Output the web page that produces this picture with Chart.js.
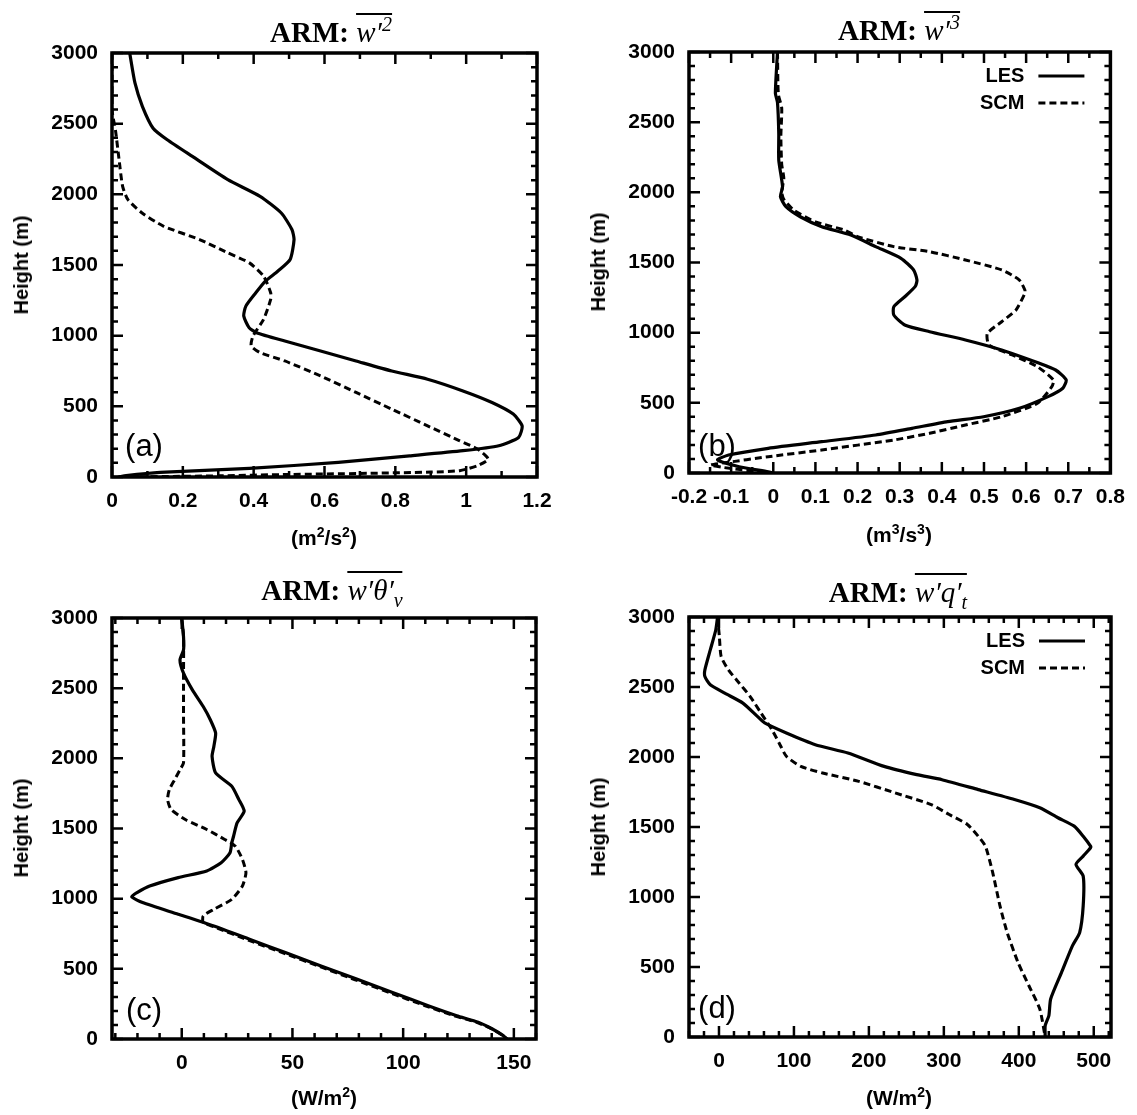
<!DOCTYPE html>
<html>
<head>
<meta charset="utf-8">
<script src="https://cdn.jsdelivr.net/npm/chart.js@4.4.1/dist/chart.umd.min.js"></script>
<style>
  body { margin: 0; background: #fff; }
  #page { position: relative; width: 1137px; height: 1115px; background: #fff; overflow: hidden; }
  canvas { position: absolute; }
  .title { position: absolute; transform: translateX(-50%); white-space: nowrap;
           font-family: 'Liberation Serif', serif; font-size: 29px; line-height: 29px; color: #000; }
  .title b { font-weight: bold; }
  .ov { border-top: 2.5px solid #000; padding-top: 1px; font-style: italic; }
  .ov sup, .ov sub { font-size: 20px; line-height: 0; }
  .xt { position: absolute; transform: translate(-50%, -50%); white-space: nowrap;
        font-family: 'Liberation Sans', Arial, sans-serif; font-weight: bold; font-size: 21px; line-height: 21px; }
  .xt sup { font-size: 14px; line-height: 0; }
  .yt { position: absolute; transform: translate(-50%, -50%) rotate(-90deg); white-space: nowrap;
        font-family: 'Liberation Sans', Arial, sans-serif; font-weight: bold; font-size: 20px; line-height: 20px; }
  .lab { position: absolute; transform: translate(-50%, -50%);
         font-family: 'Liberation Sans', Arial, sans-serif; font-size: 31px; line-height: 31px; }
</style>
</head>
<body>
<div id="page">
  <canvas id="chartA" style="left:0;top:0" width="568" height="557"></canvas>
  <canvas id="chartB" style="left:568px;top:0" width="569" height="557"></canvas>
  <canvas id="chartC" style="left:0;top:557px" width="568" height="558"></canvas>
  <canvas id="chartD" style="left:568px;top:557px" width="569" height="558"></canvas>

  <div class="title" style="left:331px;top:18px"><b>ARM:</b> <span class="ov"><i>w</i>′<sup>2</sup></span></div>
  <div class="title" style="left:899px;top:16px"><b>ARM:</b> <span class="ov"><i>w</i>′<sup>3</sup></span></div>
  <div class="title" style="left:332px;top:576px"><b>ARM:</b> <span class="ov"><i>w</i>′<i>θ</i>′<sub><i>v</i></sub></span></div>
  <div class="title" style="left:898px;top:578px"><b>ARM:</b> <span class="ov"><i>w</i>′<i>q</i>′<sub><i>t</i></sub></span></div>

  <div class="xt" style="left:324px;top:537px">(m<sup>2</sup>/s<sup>2</sup>)</div>
  <div class="xt" style="left:899px;top:534px">(m<sup>3</sup>/s<sup>3</sup>)</div>
  <div class="xt" style="left:324px;top:1097px">(W/m<sup>2</sup>)</div>
  <div class="xt" style="left:899px;top:1097px">(W/m<sup>2</sup>)</div>

  <div class="yt" style="left:21px;top:265px">Height (m)</div>
  <div class="yt" style="left:598px;top:262px">Height (m)</div>
  <div class="yt" style="left:21px;top:828px">Height (m)</div>
  <div class="yt" style="left:598px;top:827px">Height (m)</div>

  <div class="lab" style="left:144px;top:445px">(a)</div>
  <div class="lab" style="left:717px;top:445px">(b)</div>
  <div class="lab" style="left:144px;top:1009px">(c)</div>
  <div class="lab" style="left:717px;top:1007px">(d)</div>
</div>

<script>
// height ticks shared by all four panels
const heightTicks = [0, 500, 1000, 1500, 2000, 2500, 3000];

// (a) w'2 (m2/s2)
const aTicks = [0, 0.2, 0.4, 0.6, 0.8, 1, 1.2];
const aLesX = [0.05, 0.065, 0.086, 0.116, 0.156, 0.227, 0.327, 0.418, 0.478, 0.508, 0.514, 0.503, 0.468, 0.433, 0.405, 0.378, 0.372, 0.387, 0.408, 0.488, 0.589, 0.689, 0.79, 0.891, 0.991, 1.073, 1.133, 1.158, 1.148, 1.092, 0.991, 0.84, 0.639, 0.388, 0.136, 0.04, 0.02];
const aLesH = [3000, 2786, 2621, 2468, 2386, 2268, 2104, 1986, 1868, 1751, 1680, 1539, 1456, 1386, 1300, 1209, 1139, 1057, 1021, 962, 892, 821, 750, 692, 609, 527, 445, 362, 280, 221, 186, 150, 104, 61, 33, 10, 0];
const aScmX = [0, 0, 0.01, 0.02, 0.03, 0.045, 0.085, 0.146, 0.247, 0.327, 0.388, 0.428, 0.448, 0.448, 0.428, 0.398, 0.393, 0.418, 0.488, 0.589, 0.689, 0.79, 0.891, 0.982, 1.032, 1.062, 1.032, 0.982, 0.9, 0.7, 0.5, 0.3, 0.1, 0];
const aScmH = [3000, 2600, 2450, 2245, 2056, 1962, 1868, 1774, 1680, 1586, 1515, 1421, 1304, 1256, 1115, 997, 927, 880, 821, 715, 598, 480, 362, 256, 198, 127, 80, 45, 35, 25, 18, 8, 2, 0];

// (b) w'3 (m3/s3)
const bTicks = [-0.2, -0.1, 0, 0.1, 0.2, 0.3, 0.4, 0.5, 0.6, 0.7, 0.8];
const bLesX = [0.01, 0.005, 0.01, 0.013, 0.013, 0.022, 0.017, 0.03, 0.064, 0.115, 0.184, 0.243, 0.303, 0.333, 0.341, 0.337, 0.312, 0.286, 0.286, 0.312, 0.371, 0.456, 0.542, 0.61, 0.67, 0.695, 0.687, 0.652, 0.584, 0.499, 0.414, 0.329, 0.243, 0.115, -0.012, -0.106, -0.132, -0.081, -0.012, 0];
const bLesH = [3000, 2706, 2640, 2420, 2230, 2040, 1969, 1898, 1826, 1755, 1696, 1613, 1530, 1447, 1375, 1330, 1256, 1185, 1126, 1055, 1007, 948, 877, 805, 734, 663, 604, 544, 461, 401, 366, 318, 271, 223, 176, 128, 93, 45, 9, 0];
const bScmX = [0.01, 0.012, 0.02, 0.018, 0.02, 0.025, 0.02, 0.025, 0.05, 0.1, 0.17, 0.2, 0.286, 0.371, 0.456, 0.542, 0.584, 0.597, 0.597, 0.576, 0.542, 0.508, 0.512, 0.567, 0.627, 0.665, 0.661, 0.627, 0.542, 0.456, 0.371, 0.286, 0.115, -0.012, -0.115, -0.149, -0.12, -0.06, 0];
const bScmH = [3000, 2700, 2600, 2400, 2200, 2100, 2000, 1950, 1870, 1790, 1730, 1684, 1613, 1577, 1518, 1447, 1375, 1304, 1280, 1162, 1078, 995, 912, 841, 757, 663, 615, 497, 401, 342, 283, 235, 164, 116, 73, 57, 40, 18, 0];

// (c) w'thv' (W/m2)
const cTicks = [0, 50, 100, 150];
const cLesX = [0, 0.8, 0.8, -0.8, 0.8, 4.8, 9.7, 12.9, 15.3, 14.5, 13.7, 15.3, 22.6, 25.8, 28.2, 25, 23.4, 22.6, 21.8, 17.8, 11.3, -1.6, -14.5, -20.2, -22.6, -17.7, -1.6, 14.5, 30.6, 46.8, 62.9, 79, 95.2, 111.3, 124.2, 133.9, 140.3, 145.2, 146.8];
const cLesH = [3000, 2867, 2772, 2701, 2607, 2488, 2369, 2275, 2180, 2085, 2014, 1896, 1801, 1706, 1623, 1540, 1445, 1398, 1327, 1256, 1197, 1150, 1090, 1043, 1014, 972, 889, 805, 711, 616, 521, 427, 332, 237, 166, 119, 71, 24, 0];
const cScmX = [0, 0.8, 0.8, 0.8, 0.8, -0.8, -3.2, -5.6, -6.4, -4.8, 1.6, 11.3, 19.4, 24.2, 27.4, 29, 27.4, 22.6, 14.5, 9.7, 9.7, 14.5, 30, 46, 62, 78, 94, 110, 123, 133, 140, 145, 147];
const cScmH = [3000, 2867, 2583, 2300, 1967, 1919, 1848, 1777, 1706, 1635, 1564, 1493, 1422, 1374, 1280, 1185, 1090, 995, 924, 877, 829, 800, 705, 612, 518, 424, 330, 237, 166, 120, 72, 25, 0];

// (d) w'qt' (W/m2)
const dTicks = [0, 100, 200, 300, 400, 500];
const dLesX = [-1.9, -4.3, -11.6, -18.8, -18.8, -11.6, 7.7, 31.9, 51.2, 60.9, 89.9, 128.5, 172, 220.3, 263.8, 297.6, 345.9, 394.2, 428, 452.2, 473.9, 485.9, 495.7, 495.7, 485.9, 476.3, 485.9, 485.9, 481.2, 471.5, 457, 442.5, 440.1, 435.2, 435.2];
const dLesH = [3000, 2907, 2765, 2622, 2575, 2516, 2456, 2385, 2290, 2243, 2171, 2088, 2029, 1933, 1874, 1838, 1767, 1696, 1637, 1566, 1506, 1434, 1363, 1352, 1292, 1233, 1149, 936, 746, 651, 461, 271, 152, 81, 0];
const dScmX = [-1.9, 0.5, 2.9, 12.6, 27.1, 41.6, 56.1, 70.6, 80.2, 89.9, 109.2, 138.2, 186.5, 234.8, 283.1, 307.2, 331.4, 345.9, 355.5, 365.2, 374.9, 384.5, 399, 413.5, 428, 435.2];
const dScmH = [3000, 2860, 2717, 2622, 2527, 2432, 2314, 2195, 2100, 2005, 1933, 1886, 1826, 1744, 1660, 1589, 1518, 1434, 1363, 1174, 936, 746, 532, 366, 200, 0];

Chart.defaults.font.family = "'Liberation Sans', Arial, sans-serif";
Chart.defaults.color = '#000';
Chart.defaults.animation = false;

function toPoints(xs, hs) {
  return xs.map((v, i) => ({ x: v, y: hs[i] }));
}

// gnuplot style frame: thick border, inward ticks mirrored on all sides, optional legend
const framePlugin = {
  id: 'frame',
  afterDatasetsDraw(chart, args, opts) {
    const { ctx, chartArea: a, scales } = chart;
    const x = scales.x, y = scales.y;
    ctx.save();
    ctx.strokeStyle = '#000';
    ctx.lineWidth = 2.5;
    ctx.lineCap = 'butt';
    ctx.beginPath();
    const eps = 1e-6;
    const xStart = Math.ceil(x.min / opts.xStep - eps) * opts.xStep;
    for (let v = xStart; v <= x.max + eps; v += opts.xStep) {
      const major = opts.xMajor.some(m => Math.abs(m - v) < opts.xStep / 10);
      const len = major ? 11 : 6;
      const px = x.getPixelForValue(v);
      ctx.moveTo(px, a.bottom); ctx.lineTo(px, a.bottom - len);
      ctx.moveTo(px, a.top); ctx.lineTo(px, a.top + len);
    }
    for (let v = 0; v <= 3000; v += 100) {
      const len = heightTicks.includes(v) ? 11 : 6;
      const py = y.getPixelForValue(v);
      ctx.moveTo(a.left, py); ctx.lineTo(a.left + len, py);
      ctx.moveTo(a.right, py); ctx.lineTo(a.right - len, py);
    }
    ctx.stroke();
    ctx.lineWidth = 3.5;
    ctx.strokeRect(a.left, a.top, a.right - a.left, a.bottom - a.top);

    if (opts.legend) {
      ctx.font = "bold 20px 'Liberation Sans', Arial, sans-serif";
      ctx.textAlign = 'right';
      ctx.textBaseline = 'middle';
      chart.data.datasets.forEach((ds, i) => {
        const ly = a.top + 24 + i * 27;
        ctx.fillStyle = '#000';
        ctx.fillText(ds.label, a.right - 86, ly);
        ctx.beginPath();
        ctx.lineWidth = ds.borderWidth;
        ctx.setLineDash(ds.borderDash || []);
        ctx.moveTo(a.right - 72, ly);
        ctx.lineTo(a.right - 26, ly);
        ctx.stroke();
        ctx.setLineDash([]);
      });
    }
    ctx.restore();
  }
};

function makePanel(id, p) {
  new Chart(document.getElementById(id), {
    type: 'scatter',
    data: {
      datasets: [
        { label: 'LES', data: toPoints(p.lesX, p.lesH), showLine: true, pointRadius: 0,
          borderColor: '#000', borderWidth: 3.2, tension: 0.2 },
        { label: 'SCM', data: toPoints(p.scmX, p.scmH), showLine: true, pointRadius: 0,
          borderColor: '#000', borderWidth: 3, borderDash: [7, 4], tension: 0.2 }
      ]
    },
    options: {
      responsive: false,
      layout: { padding: p.pad },
      plugins: {
        legend: { display: false },
        tooltip: { enabled: false },
        frame: { xStep: p.xStep, xMajor: p.xTicks, legend: p.legend }
      },
      scales: {
        x: {
          type: 'linear', min: p.xMin, max: p.xMax,
          grid: { display: false, drawTicks: false },
          border: { display: false },
          afterBuildTicks: s => { s.ticks = p.xTicks.map(v => ({ value: v })); },
          afterFit: s => { s.height = 40; },
          ticks: { autoSkip: false, maxRotation: 0, minRotation: 0, padding: 12,
                   font: { size: 21, weight: 'bold' }, callback: v => String(v) }
        },
        y: {
          type: 'linear', min: 0, max: 3000,
          grid: { display: false, drawTicks: false },
          border: { display: false },
          afterBuildTicks: s => { s.ticks = heightTicks.map(v => ({ value: v })); },
          afterFit: s => { s.width = p.left; },
          ticks: { padding: 14, font: { size: 21, weight: 'bold' }, callback: v => String(v) }
        }
      }
    },
    plugins: [framePlugin]
  });
}

makePanel('chartA', { lesX: aLesX, lesH: aLesH, scmX: aScmX, scmH: aScmH,
  xTicks: aTicks, xMin: 0, xMax: 1.2, xStep: 0.1, left: 112,
  pad: { left: 0, top: 53, right: 31, bottom: 40 }, legend: false });
makePanel('chartB', { lesX: bLesX, lesH: bLesH, scmX: bScmX, scmH: bScmH,
  xTicks: bTicks, xMin: -0.2, xMax: 0.8, xStep: 0.05, left: 121,
  pad: { left: 0, top: 52, right: 25, bottom: 44 }, legend: true });
makePanel('chartC', { lesX: cLesX, lesH: cLesH, scmX: cScmX, scmH: cScmH,
  xTicks: cTicks, xMin: -31.5, xMax: 160, xStep: 10, left: 112,
  pad: { left: 0, top: 61, right: 32, bottom: 36 }, legend: false });
makePanel('chartD', { lesX: dLesX, lesH: dLesH, scmX: dScmX, scmH: dScmH,
  xTicks: dTicks, xMin: -40, xMax: 523, xStep: 20, left: 121,
  pad: { left: 0, top: 60, right: 26, bottom: 38 }, legend: true });
</script>
</body>
</html>
